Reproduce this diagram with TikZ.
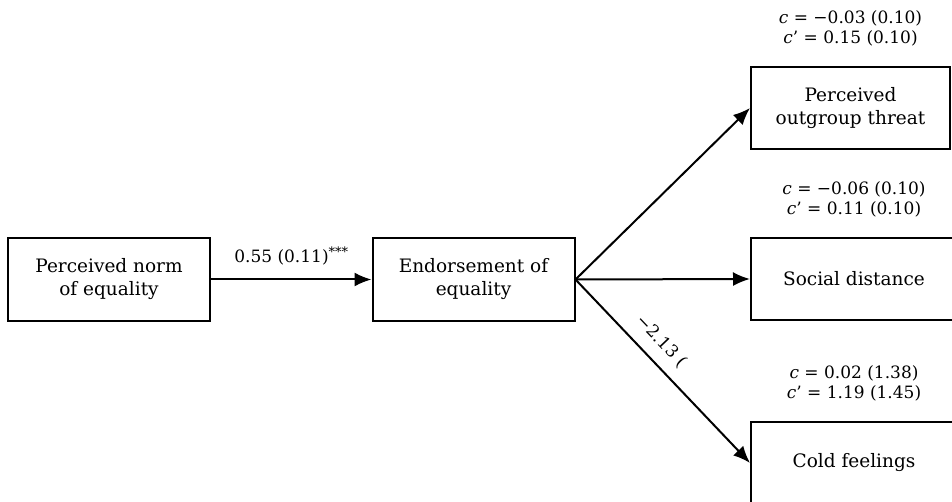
\documentclass[tikz,border=0pt]{standalone}
\usepackage{fontspec}
\setmainfont{DejaVu Serif}
\usetikzlibrary{positioning,arrows.meta}

\begin{document}
\begin{tikzpicture}[x=1pt, y=-1pt, every path/.style={line width=2pt},%
        box/.style={draw, line width=2pt, minimum width=200pt, minimum height=82pt, align=center, font=\fontsize{18.5}{23}\selectfont},%
        lbl/.style={align=center, inner sep=0pt, font=\fontsize{17}{20}\selectfont},%
        link/.style={->, >={Latex[length=17pt,width=14pt]}}]
    \useasboundingbox (0,0) rectangle (952,502);
    \node[box, minimum width=202pt] (norm) at (109,279.5) {Perceived norm\\of equality};
    \node[box, minimum width=202pt] (endorse) at (473.5,279.5) {Endorsement of\\equality};
    \node[box, minimum width=199pt] (threat) at (850.5,108) {Perceived\\outgroup threat};
    \node[box, minimum width=206pt] (social) at (854,279) {Social distance};
    \node[box, minimum width=206pt] (cold) at (854,463) {Cold feelings};
    \node[lbl, above=19pt of threat] (cthreat) {\textit{c} = −0.03 (0.10)\\\textit{c}’ = 0.15 (0.10)};
    \node[lbl, above=19pt of social] (csocial) {\textit{c} = −0.06 (0.10)\\\textit{c}’ = 0.11 (0.10)};
    \node[lbl, above=19pt of cold] (ccold) {\textit{c} = 0.02 (1.38)\\\textit{c}’ = 1.19 (1.45)};
    \draw[link] (norm) -- node[lbl, above=13pt] (a) {0.55 (0.11)\raisebox{.4em}{\fontsize{13}{13}\selectfont ***}} (endorse);
    \draw[link] (endorse.east) -- (threat.west);
    \draw[link] (endorse.east) -- (social.west);
    \draw[link] (endorse.east) -- node[lbl, pos=.41, sloped, above=11pt] (b) {−2.13 (} (cold.west);
\end{tikzpicture}
\end{document}
